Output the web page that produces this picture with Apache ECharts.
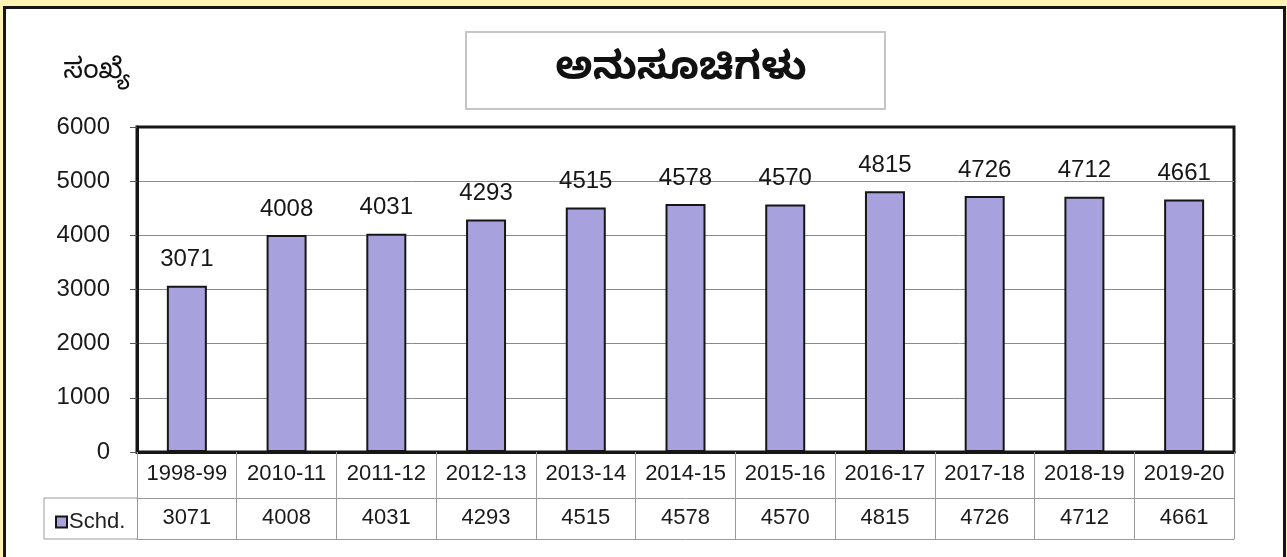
<!DOCTYPE html>
<html>
<head>
<meta charset="utf-8">
<script src="https://cdn.jsdelivr.net/npm/echarts@6/dist/echarts.min.js"></script>
<style>
  html, body { margin: 0; padding: 0; background: #fff4b4; }
  .frame {
    position: absolute; left: 3px; top: 6px; width: 1277px; height: 560px;
    border: 3px solid #161616; background: #fff;
  }
  #chart { position: absolute; left: 0; top: 0; width: 1287px; height: 557px; }
</style>
</head>
<body>
<div class="frame"></div>
<div id="chart"></div>
<script>
// data
const years = ['1998-99', '2010-11', '2011-12', '2012-13', '2013-14', '2014-15',
  '2015-16', '2016-17', '2017-18', '2018-19', '2019-20']
const schd = [3071, 4008, 4031, 4293, 4515, 4578, 4570, 4815, 4726, 4712, 4661]
const yTicks = [0, 1000, 2000, 3000, 4000, 5000, 6000]

const font = "'Liberation Sans', Arial, 'Noto Sans Kannada', sans-serif"
const barColor = '#a7a1de'
const tableLine = '#9a9a9a'

const chart = echarts.init(document.getElementById('chart'))

chart.setOption({
  animation: false,
  textStyle: { fontFamily: font },
  title: {
    text: 'ಅನುಸೂಚಿಗಳು',
    left: 676,
    top: 44,
    textAlign: 'center',
    textStyle: { fontSize: 39, fontWeight: 'bold', color: '#111', fontFamily: font },
  },
  legend: {
    left: 50,
    top: 506,
    itemWidth: 11,
    itemHeight: 11,
    icon: 'rect',
    textStyle: { fontSize: 22, color: '#222', padding: [0, 0, 0, -3] },
    data: ['Schd.'],
  },
  grid: {
    left: 137, right: 53, top: 127, bottom: 105,
    show: true, borderColor: '#161616', borderWidth: 3,
  },
  xAxis: [
    {
      type: 'category',
      data: years,
      position: 'bottom',
      axisLine: { lineStyle: { color: '#161616', width: 3 } },
      axisTick: { show: true, interval: 0, length: 87, lineStyle: { color: tableLine } },
      axisLabel: { interval: 0, fontSize: 22, color: '#1a1a1a', margin: 11 },
    },
    {
      type: 'category',
      data: years,
      position: 'bottom',
      offset: 46,
      axisLine: { lineStyle: { color: tableLine } },
      axisTick: { show: false },
      axisLabel: {
        interval: 0, fontSize: 22, color: '#1a1a1a', margin: 9,
        formatter: (v, i) => String(schd[i]),
      },
    },
    {
      type: 'category',
      data: years,
      position: 'bottom',
      offset: 87,
      axisLine: { lineStyle: { color: tableLine } },
      axisTick: { show: false },
      axisLabel: { show: false },
    },
  ],
  yAxis: {
    type: 'value',
    min: yTicks[0],
    max: yTicks[yTicks.length - 1],
    interval: 1000,
    name: 'ಸಂಖ್ಯೆ',
    nameLocation: 'end',
    nameGap: 57,
    nameTextStyle: { fontSize: 28, color: '#111', align: 'right', verticalAlign: 'middle', padding: [0, 7, 0, 0] },
    axisLine: { show: true, lineStyle: { color: '#161616', width: 3 } },
    axisTick: { show: true, length: 7, lineStyle: { color: '#555' } },
    axisLabel: { fontSize: 24, color: '#1a1a1a', margin: 27, formatter: v => String(v) },
    splitLine: { showMaxLine: false, showMinLine: false, lineStyle: { color: '#8a8a8a', width: 1 } },
  },
  series: [{
    name: 'Schd.',
    type: 'bar',
    data: schd,
    barWidth: 40,
    itemStyle: { color: barColor, borderColor: '#161616', borderWidth: 2 },
    label: { show: true, position: 'top', distance: 14, fontSize: 24, color: '#161616' },
  }],
  graphic: [
    {
      type: 'rect',
      shape: { x: 466, y: 32, width: 419, height: 77 },
      style: { fill: 'none', stroke: '#c6c6c6', lineWidth: 2 },
      silent: true,
    },
    {
      type: 'polyline',
      shape: { points: [[137, 498], [44, 498], [44, 539], [137, 539]] },
      style: { fill: 'none', stroke: tableLine, lineWidth: 1 },
      silent: true,
    },
  ],
})
</script>
</body>
</html>
